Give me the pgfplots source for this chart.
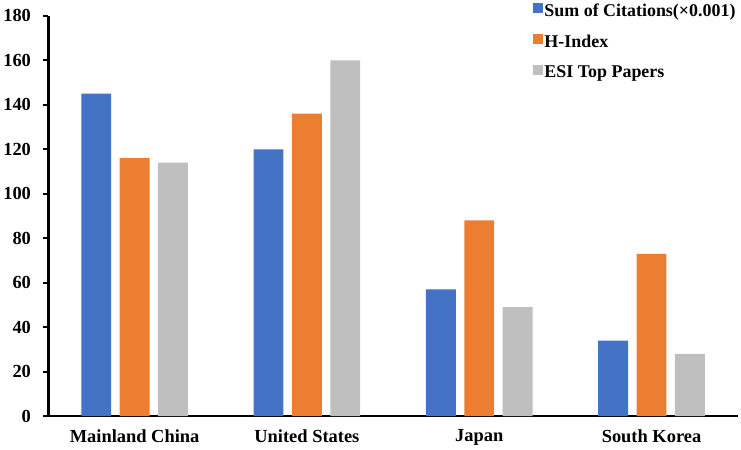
\documentclass[border=0pt]{standalone}
\usepackage{fontspec}
\setmainfont{Liberation Serif}
\usepackage{pgfplots}
\pgfplotsset{compat=1.18}
\definecolor{cblue}{HTML}{4472C4}
\definecolor{corange}{HTML}{ED7D31}
\definecolor{cgray}{HTML}{BFBFBF}
\begin{document}
\begin{tikzpicture}
\begin{axis}[
  scale only axis,
  width=692pt, height=402pt,
  xmin=-0.5, xmax=3.5,
  ymin=0, ymax=180,
  ytick={0,20,...,180},
  ybar=8.5pt, bar width=30pt,
  axis x line*=bottom, axis y line*=left,
  axis line style={line width=2.2pt},
  every axis plot/.append style={draw=none},
  xtick={0,1,2,3},
  xticklabels={Mainland China, United States, Japan, South Korea},
  major x tick style={draw=none},
  extra x ticks={0.5,1.5,2.5,3.5},
  extra x tick labels={},
  extra x tick style={major tick length=5pt, tick align=inside, tick style={line width=2.2pt, black}},
  ytick align=outside, major tick length=5pt,
  y tick style={line width=2.2pt, black},
  tick label style={font=\fontsize{18.5}{20}\selectfont\bfseries},
  /pgf/number format/assume math mode=true,
  yticklabel style={xshift=-9pt},
  xticklabel style={yshift=-5pt},
  legend style={draw=none, fill=none, at={(1,1.04)}, anchor=north east,
    font=\fontsize{18}{20}\selectfont\bfseries, row sep=13pt,
    legend cell align=left, inner xsep=0pt},
  legend image code/.code={\fill[#1] (0pt,-2pt) rectangle (10pt,8pt);},
]
\addplot[fill=cblue] coordinates {(0,145) (1,120) (2,57) (3,34)};
\addplot[fill=corange] coordinates {(0,116) (1,136) (2,88) (3,73)};
\addplot[fill=cgray] coordinates {(0,114) (1,160) (2,49) (3,28)};
\legend{Sum of Citations(×0.001), H-Index, ESI Top Papers}
\end{axis}
\end{tikzpicture}
\end{document}
